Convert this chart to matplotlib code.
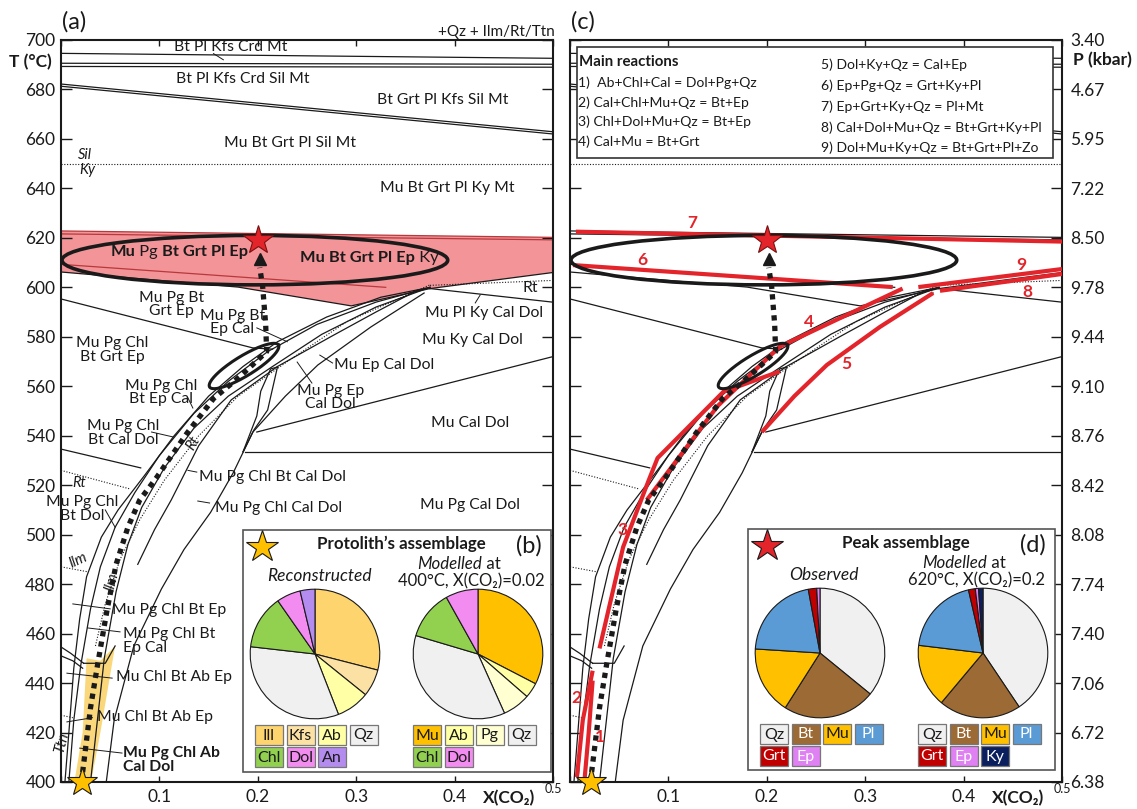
"""Isochemical T-X(CO2) section of the metamarl with reaction lines and modal pies."""
import matplotlib

matplotlib.use("Agg")
import matplotlib.pyplot as plt
import numpy as np
from matplotlib.patches import Ellipse, Polygon, Rectangle

plt.rcParams["font.family"] = ["Lato", "DejaVu Sans"]
INK = "#1a1a1a"
RED = "#e3242b"
W, H = 1137, 809

# ---- scales ----------------------------------------------------------------
T_TICKS = list(range(400, 701, 20))
X_TICKS = [0.0, 0.1, 0.2, 0.3, 0.4, 0.5]
X_TICK_LABELS = ["", "0.1", "0.2", "0.3", "0.4", ""]
P_TICK_LABELS = ["6.38", "6.72", "7.06", "7.40", "7.74", "8.08", "8.42", "8.76",
                 "9.10", "9.44", "9.78", "8.50", "7.22", "5.95", "4.67", "3.40"]

# ---- phase boundaries (X(CO2), T) --------------------------------------------
SOLID_BOUNDS = [
    [(0.0, 694.6), (0.5, 692.6)],
    [(0.0, 690.6), (0.5, 690.2)],
    [(0.0, 689.3), (0.5, 689.0)],
    [(0.0, 682.2), (0.5, 662.9)],
    [(0.0, 681.3), (0.5, 662.0)],
    [(0.0, 606.2), (0.18, 600.1), (0.295, 592.5), (0.375, 599.5)],
    [(0.375, 599.5), (0.5, 606.0)],
    [(0.375, 599.5), (0.5, 594.0)],
    [(0.0, 595.3), (0.195, 575.5), (0.215, 575.0)],
    [(0.0, 534.6), (0.081, 527.0)],
    [(0.187, 533.5), (0.5, 533.5)],
    [(0.199, 541.5), (0.5, 572.0)],
    [(0.0, 454.6), (0.010, 452.0), (0.023, 448.0)],
    [(0.0, 451.0), (0.012, 449.0), (0.022, 446.0)],
    [(0.023, 448.0), (0.045, 448.0), (0.055, 455.0)],
]
PEAK_BAND_BOUNDS = [
    [(0.0, 622.8), (0.5, 620.2)],
    [(0.0, 621.6), (0.5, 619.2)],
    [(0.0, 609.3), (0.33, 600.0)],
]
DOTTED_BOUNDS = [
    [(0.0, 650.0), (0.5, 650.0)],
    [(0.375, 600.8), (0.5, 602.8)],
    [(0.0, 526.0), (0.07, 518.5)],
    [(0.0, 487.0), (0.027, 485.0)],
    [(0.0, 427.0), (0.012, 426.0)],
    [(0.035, 455), (0.045, 472), (0.06, 490), (0.08, 506), (0.105, 522),
     (0.14, 540), (0.18, 556), (0.23, 570), (0.29, 586), (0.375, 601)],
]
FAN_BOUNDS = [
    [(0.004, 400), (0.008, 420), (0.013, 446), (0.019, 466), (0.026, 483),
     (0.041, 499), (0.058, 510), (0.085, 524), (0.115, 540), (0.150, 556),
     (0.185, 568), (0.220, 578), (0.270, 588), (0.325, 596), (0.375, 600)],
    [(0.008, 400), (0.013, 425), (0.020, 447), (0.030, 470), (0.040, 487),
     (0.055, 503), (0.075, 517), (0.100, 532), (0.135, 549), (0.170, 562),
     (0.210, 574), (0.260, 585), (0.320, 594), (0.375, 600)],
    [(0.030, 400), (0.037, 425), (0.044, 450), (0.056, 477), (0.068, 496),
     (0.082, 511), (0.105, 527), (0.135, 543), (0.170, 556), (0.215, 568),
     (0.265, 581), (0.320, 592), (0.375, 600)],
    [(0.046, 400), (0.054, 425), (0.074, 455), (0.102, 478), (0.125, 494),
     (0.152, 509), (0.175, 525), (0.195, 541.5), (0.228, 556), (0.261, 568.6),
     (0.315, 584), (0.369, 597.7)],
    [(0.078, 488), (0.095, 502), (0.112, 514), (0.140, 536), (0.173, 554.5),
     (0.220, 568), (0.274, 580), (0.320, 590), (0.363, 599)],
    [(0.185, 533.5), (0.196, 542.3), (0.210, 550.4), (0.220, 567.8)],
    [(0.185, 533.5), (0.199, 548.0), (0.203, 558.0), (0.213, 567.0), (0.220, 567.8)],
]
LEADERS = [
    [(0.155, 694.5), (0.165, 692.0)],
    [(0.199, 583.6), (0.230, 578.0)],
    [(0.129, 555.3), (0.134, 551.2)],
    [(0.092, 541.5), (0.114, 539.5)],
    [(0.263, 572.6), (0.276, 569.4)],
    [(0.240, 569.8), (0.255, 561.3)],
    [(0.129, 526.0), (0.138, 525.3)],
    [(0.139, 513.6), (0.151, 512.8)],
    [(0.045, 510.0), (0.055, 503.0)],
    [(0.426, 596.9), (0.421, 593.7)],
    [(0.012, 472.0), (0.050, 470.0)],
    [(0.027, 462.3), (0.060, 460.7)],
    [(0.006, 444.0), (0.052, 442.0)],
    [(0.006, 424.3), (0.032, 426.0)],
    [(0.019, 413.7), (0.062, 411.7)],
]
PEAK_FIELD = [(0.0, 622.8), (0.5, 620.2), (0.5, 606.0), (0.375, 599.5),
              (0.295, 592.5), (0.18, 600.1), (0.0, 606.2)]
PROTOLITH_FIELD = [(0.014, 401), (0.031, 401), (0.040, 420), (0.055, 455),
                   (0.040, 449), (0.026, 450), (0.022, 420)]

# ---- P-T path and assemblages -----------------------------------------------
PATH = [(0.022, 404), (0.030, 430), (0.037, 447), (0.047, 470), (0.056, 488),
        (0.068, 503), (0.080, 514), (0.097, 523), (0.128, 541), (0.155, 555),
        (0.182, 564), (0.209, 574), (0.208, 585), (0.205, 600), (0.202, 608)]
PROTOLITH_POINT = (0.021, 400)
PEAK_POINT = (0.200, 619)
PEAK_LOOP = dict(xy=(0.197, 611), width=0.392, height=20)
PROGRADE_LOOP_ENDS = [(0.151, 559.7), (0.221, 576.7)]

# ---- main reactions ----------------------------------------------------------
REACTIONS = {
    "1": [(0.015, 402), (0.019, 420), (0.023, 441)],
    "2": [(0.007, 402), (0.013, 425), (0.023, 445)],
    "3": [(0.030, 454), (0.054, 495), (0.080, 522), (0.089, 531),
          (0.156, 557.8), (0.213, 566)],
    "4": [(0.078, 514), (0.150, 552), (0.213, 576), (0.338, 599.5)],
    "5": [(0.195, 541.5), (0.228, 556), (0.261, 568.6), (0.315, 584), (0.369, 597.7)],
    "6": [(0.003, 609), (0.328, 600.1)],
    "7": [(0.006, 622.5), (0.5, 618.5)],
    "8": [(0.376, 598.6), (0.5, 605.4)],
    "9": [(0.354, 600.1), (0.5, 607.4)],
}
REACTION_TAGS = {"1": (0.030, 418), "2": (0.006, 434), "3": (0.053, 502),
                 "4": (0.243, 586), "5": (0.281, 569), "6": (0.073, 611),
                 "7": (0.124, 626), "8": (0.465, 598), "9": (0.459, 609)}
REACTION_LIST_LEFT = ["1)  Ab+Chl+Cal = Dol+Pg+Qz", "2) Cal+Chl+Mu+Qz = Bt+Ep",
                      "3) Chl+Dol+Mu+Qz = Bt+Ep", "4) Cal+Mu = Bt+Grt"]
REACTION_LIST_RIGHT = ["5) Dol+Ky+Qz = Cal+Ep", "6) Ep+Pg+Qz = Grt+Ky+Pl",
                       "7) Ep+Grt+Ky+Qz = Pl+Mt", "8) Cal+Dol+Mu+Qz = Bt+Grt+Ky+Pl",
                       "9) Dol+Mu+Ky+Qz = Bt+Grt+Pl+Zo"]

# ---- field labels -----------------------------------------------------------
FIELD_LABELS = [
    ("Bt Pl Kfs Crd Mt", 0.172, 697.0), ("Bt Pl Kfs Crd Sil Mt", 0.185, 684.2),
    ("Bt Grt Pl Kfs Sil Mt", 0.388, 675.7), ("Mu Bt Grt Pl Sil Mt", 0.233, 658.4),
    ("Mu Bt Grt Pl Ky Mt", 0.393, 640.2),
    ("Mu Pg Bt\nGrt Ep", 0.112, 593.0), ("Mu Pg Bt\nEp Cal", 0.174, 585.8),
    ("Mu Pg Chl\nBt Grt Ep", 0.052, 574.7), ("Mu Pg Chl\nBt Ep Cal", 0.102, 557.5),
    ("Mu Pg Chl\nBt Cal Dol", 0.063, 541.1), ("Mu Ep Cal Dol", 0.328, 568.6),
    ("Mu Pg Ep\nCal Dol", 0.274, 555.5), ("Mu Pl Ky Cal Dol", 0.430, 589.6),
    ("Mu Ky Cal Dol", 0.418, 578.7), ("Rt", 0.477, 599.7), ("Mu Cal Dol", 0.416, 545.1),
    ("Mu Pg Chl Bt Cal Dol", 0.215, 523.3), ("Mu Pg Chl Cal Dol", 0.221, 510.8),
    ("Mu Pg Cal Dol", 0.416, 512.0), ("Mu Pg Chl\nBt Dol", 0.022, 510.3),
    ("Mu Pg Chl Bt Ep", 0.110, 469.5), ("Mu Chl Bt Ab Ep", 0.115, 442.5),
    ("Mu Chl Bt Ab Ep", 0.096, 426.3),
]
LEFT_LABELS = [("Mu Pg Chl Bt\nEp Cal", 0.063, 457.0, "normal"),
               ("Mu Pg Chl Ab\nCal Dol", 0.063, 408.9, "bold")]
PHASE_TAGS = [("Sil", 0.024, 653.5, 0), ("Ky", 0.027, 647.4, 0), ("Rt", 0.018, 521.0, 0),
              ("Ilm", 0.017, 489.5, 25), ("Ttn", 0.001, 416.0, 75),
              ("Rt", 0.134, 537.0, 60), ("Ilm", 0.052, 481.0, 75)]
PEAK_FIELD_LABELS = [
    (0.050, 614.3, [("Mu", "bold"), (" Pg", "normal"), (" Bt Grt Pl Ep", "bold")]),
    (0.243, 611.9, [("Mu Bt Grt Pl Ep", "bold"), (" Ky", "normal")]),
]

# ---- modal proportions (vol%) ------------------------------------------------
RECON_PHASES = ["Ill", "Kfs", "Ab", "Qz", "Chl", "Dol", "An"]
RECON_MODES = [29.0, 6.8, 8.3, 32.7, 13.5, 6.0, 3.7]
PROTO_MODEL_PHASES = ["Mu", "Ab", "Pg", "Qz", "Chl", "Dol"]
PROTO_MODEL_MODES = [32.6, 3.8, 6.9, 36.3, 12.3, 8.1]
OBS_PHASES = ["Qz", "Bt", "Mu", "Pl", "Grt", "Ep"]
OBS_MODES = [35.9, 23.1, 17.0, 21.1, 2.1, 0.8]
PEAK_MODEL_PHASES = ["Qz", "Bt", "Mu", "Pl", "Grt", "Ep", "Ky"]
PEAK_MODEL_MODES = [40.6, 20.5, 15.8, 19.5, 1.7, 0.8, 1.1]
PHASE_COLORS = {"Ill": "#fdd46e", "Kfs": "#fbe1a4", "Ab": "#ffffa6", "Qz": "#f0f0f0",
                "Chl": "#92d050", "Dol": "#f38cf0", "An": "#b48cf0", "Mu": "#ffc000",
                "Pg": "#ffffd2", "Bt": "#9c6a35", "Pl": "#5b9bd5", "Grt": "#c00000",
                "Ep": "#df80f3", "Ky": "#0b1f5e"}
DARK_PHASES = {"Bt", "Pl", "Grt", "Ep", "Ky"}


def frame(ax):
    ax.set_xlim(0, 0.5)
    ax.set_ylim(400, 700)
    ax.set_xticks(X_TICKS)
    ax.set_xticklabels(X_TICK_LABELS)
    ax.set_yticks(T_TICKS)
    ax.tick_params(direction="in", top=True, right=True, labelsize=12.5,
                   width=1.0, colors=INK)
    ax.tick_params(axis="y", length=8, pad=4)
    ax.tick_params(axis="x", length=4, pad=5)
    for s in ax.spines.values():
        s.set_linewidth(1.5)
        s.set_color(INK)
    tr = ax.get_xaxis_transform()
    ax.text(0.455, -0.022, "X(CO₂)", transform=tr, ha="center", va="center",
            fontsize=12.5, weight="bold", color=INK)
    ax.text(0.5, -0.010, "0.5", transform=tr, ha="center", va="center",
            fontsize=9, color=INK)


def plot_lines(ax, lines, **kw):
    for line in lines:
        a = np.array(line)
        ax.plot(a[:, 0], a[:, 1], **kw)


def draw_bounds(ax, band_color):
    plot_lines(ax, SOLID_BOUNDS + FAN_BOUNDS, color=INK, lw=0.9, zorder=2)
    plot_lines(ax, PEAK_BAND_BOUNDS, color=band_color, lw=0.9, zorder=2)
    plot_lines(ax, DOTTED_BOUNDS, color=INK, lw=0.8, ls=(0, (1, 1.5)), zorder=2)


def tilted_loop(ax, p0, p1, half_width, **kw):
    bb = ax.get_window_extent()
    scale = np.array([bb.width / 0.5, bb.height / 300.0])
    a, b = np.array(p0) * scale, np.array(p1) * scale
    c, d = (a + b) / 2, b - a
    half_len, ang = np.hypot(*d) / 2, np.arctan2(d[1], d[0])
    t = np.linspace(0, 2 * np.pi, 200)
    u, v = half_len * np.cos(t), half_width * np.sin(t)
    xs = c[0] + u * np.cos(ang) - v * np.sin(ang)
    ys = c[1] + u * np.sin(ang) + v * np.cos(ang)
    ax.plot(xs / scale[0], ys / scale[1], **kw)


def draw_path(ax):
    p = np.array(PATH)
    ax.plot(p[:, 0], p[:, 1], color=INK, lw=3.8, ls=(0, (1, 1)),
            solid_capstyle="butt", dash_capstyle="butt", zorder=5)
    ax.plot(p[-1, 0], p[-1, 1] + 3.5, marker="^", ms=9, color=INK, zorder=5)
    ax.add_patch(Ellipse(**PEAK_LOOP, fill=False, lw=2.6, ec=INK, zorder=5))
    tilted_loop(ax, *PROGRADE_LOOP_ENDS, half_width=10, color=INK, lw=2.2, zorder=5)
    ax.plot(*PROTOLITH_POINT, marker="*", ms=22, mfc="#ffc000", mec=INK,
            mew=0.8, clip_on=False, zorder=7)
    ax.plot(*PEAK_POINT, marker="*", ms=22, mfc=RED, mec="#7a1010",
            mew=0.8, clip_on=False, zorder=7)


def mixed_text(ax, x, y, parts, **kw):
    t = ax.text(x, y, parts[0][0], weight=parts[0][1], ha="left", va="center", **kw)
    for s, w in parts[1:]:
        t = ax.annotate(s, xy=(1, 0), xycoords=t, ha="left", va="bottom",
                        weight=w, **kw)


fig = plt.figure(figsize=(W / 100, H / 100), dpi=100)
ax_a = fig.add_axes([61 / W, 1 - 782 / H, 492 / W, 742 / H])
ax_c = fig.add_axes([570 / W, 1 - 782 / H, 492 / W, 742 / H])

# ---- (a) pseudosection with assemblage fields --------------------------------
frame(ax_a)
ax_a.set_yticklabels([str(t) for t in T_TICKS])
ax_a.add_patch(Polygon(PEAK_FIELD, closed=True, fc="#f29498", ec="none", zorder=1))
ax_a.add_patch(Polygon(PROTOLITH_FIELD, closed=True, fc="#f9d77a", ec="none", zorder=1))
draw_bounds(ax_a, "#b8383c")
plot_lines(ax_a, LEADERS, color=INK, lw=0.7, zorder=2)
for txt, x, y in FIELD_LABELS:
    ax_a.text(x, y, txt, ha="center", va="center", fontsize=11.3, color=INK,
              linespacing=0.95, zorder=6)
for txt, x, y, w in LEFT_LABELS:
    ax_a.text(x, y, txt, ha="left", va="center", fontsize=11.3, weight=w,
              color=INK, linespacing=0.95, zorder=6)
for txt, x, y, rot in PHASE_TAGS:
    ax_a.text(x, y, txt, ha="center", va="center", fontsize=10.5, style="italic",
              rotation=rot, color=INK, zorder=6)
for x, y, parts in PEAK_FIELD_LABELS:
    mixed_text(ax_a, x, y, parts, fontsize=11.8, color=INK, zorder=6)
draw_path(ax_a)

# ---- (c) same section with the main reactions --------------------------------
frame(ax_c)
ax_c.tick_params(axis="y", labelleft=False, labelright=True, pad=6)
ax_c.set_yticklabels(P_TICK_LABELS)
draw_bounds(ax_c, INK)
for key, pts in REACTIONS.items():
    a = np.array(pts)
    ax_c.plot(a[:, 0], a[:, 1], color=RED, lw=3.0, solid_capstyle="butt", zorder=3)
    tx, ty = REACTION_TAGS[key]
    ax_c.text(tx, ty, key, color=RED, fontsize=12.5, weight="bold",
              ha="center", va="center", zorder=6)
draw_path(ax_c)

# ---- overlay in figure pixels: titles, legends, insets ------------------------
ov = fig.add_axes([0, 0, 1, 1], zorder=2)
ov.set_xlim(0, W)
ov.set_ylim(H, 0)
ov.axis("off")

ov.text(62, 22, "(a)", fontsize=17, color=INK, ha="left", va="center")
ov.text(571, 22, "(c)", fontsize=17, color=INK, ha="left", va="center")
ov.text(555, 32, "+Qz + Ilm/Rt/Ttn", fontsize=11, color=INK, ha="right", va="center")
ov.text(52, 62, "T (°C)", fontsize=12.5, weight="bold", color=INK, ha="right", va="center")
ov.text(1073, 60, "P (kbar)", fontsize=12.5, weight="bold", color=INK, ha="left", va="center")

# reaction list
ov.add_patch(Rectangle((577, 47), 476, 111, fc="white", ec="#333333", lw=1.2))
ov.text(579, 62, "Main reactions", fontsize=10.8, weight="bold", color=INK, va="center")
for i, s in enumerate(REACTION_LIST_LEFT):
    ov.text(578, 83 + 19.5 * i, s, fontsize=10.1, color=INK, va="center")
for i, s in enumerate(REACTION_LIST_RIGHT):
    ov.text(821, 65 + 20.8 * i, s, fontsize=10.1, color=INK, va="center")


def pie_at(cx, cy, modes, phases):
    pa = fig.add_axes([(cx - 81) / W, 1 - (cy + 81) / H, 162 / W, 162 / H], zorder=3)
    pa.pie(modes, colors=[PHASE_COLORS[p] for p in phases], startangle=90,
           counterclock=False,
           wedgeprops=dict(edgecolor=INK, linewidth=0.8))
    pa.set_xlim(-1.25, 1.25)
    pa.set_ylim(-1.25, 1.25)


def phase_keys(x0, y0, phases):
    for i, p in enumerate(phases):
        x = x0 + 31.5 * (i % 4)
        y = y0 + 22 * (i // 4)
        ov.add_patch(Rectangle((x, y), 28, 20, fc=PHASE_COLORS[p], ec="#777777", lw=0.9))
        ov.text(x + 14, y + 10.5, p, fontsize=11.5, ha="center", va="center",
                color="white" if p in DARK_PHASES else INK)


def inset(x0, y0, x1, y1, tag, title, star_color, left_title, cond, left, right):
    ov.add_patch(Rectangle((x0, y0), x1 - x0, y1 - y0, fc="white", ec="#555555", lw=1.2))
    ov.plot(x0 + 19, y0 + 17, marker="*", ms=24, mfc=star_color, mec=INK, mew=0.8)
    ov.text((x0 + x1) / 2 + 4, y0 + 14, title, fontsize=12.2, weight="bold",
            ha="center", va="center", color=INK)
    ov.text(x1 - 22, y0 + 16, tag, fontsize=17, ha="center", va="center", color=INK)
    ov.text(x0 + 76, y0 + 46, left_title, fontsize=12.5, style="italic",
            ha="center", va="center", color=INK)
    t = ov.text(x0 + 207, y0 + 34, "Modelled", fontsize=12.2, style="italic",
                ha="center", va="center", color=INK)
    ov.annotate(" at", xy=(1, 0), xycoords=t, fontsize=12.2, ha="left", va="bottom",
                color=INK)
    ov.text(x0 + 228, y0 + 51, cond, fontsize=12, ha="center", va="center", color=INK)
    pie_at(x0 + 72, y0 + 124, *left)
    pie_at(x0 + 235, y0 + 124, *right)
    phase_keys(x0 + 12, y0 + 195, left[1])
    phase_keys(x0 + 170, y0 + 195, right[1])


inset(243, 530, 551, 772, "(b)", "Protolith’s assemblage", "#ffc000", "Reconstructed",
      "400°C, X(CO₂)=0.02", (RECON_MODES, RECON_PHASES),
      (PROTO_MODEL_MODES, PROTO_MODEL_PHASES))
inset(748, 529, 1055, 770, "(d)", "Peak assemblage", RED, "Observed",
      "620°C, X(CO₂)=0.2", (OBS_MODES, OBS_PHASES),
      (PEAK_MODEL_MODES, PEAK_MODEL_PHASES))

fig.savefig("out.png", dpi=100)
